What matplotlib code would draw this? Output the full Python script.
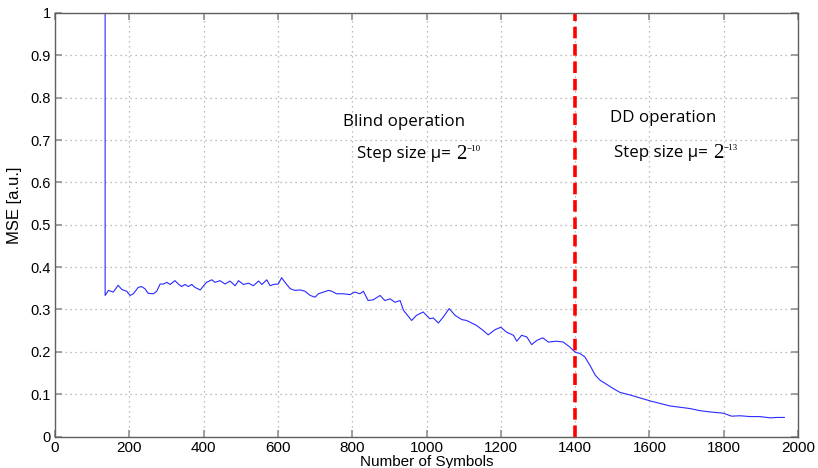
import numpy as np
import matplotlib
matplotlib.use('Agg')
from matplotlib import pyplot as plt

# MSE trace of the equaliser vs. symbol index
sym = [135, 135, 144, 157, 170, 180, 193, 202, 211, 224, 233, 242, 251, 265, 274,
       283, 292, 301, 310, 323, 332, 341, 350, 359, 368, 377, 391, 400, 408, 422,
       431, 444, 458, 471, 485, 494, 507, 521, 534, 548, 557, 570, 579, 588, 601,
       610, 619, 633, 646, 660, 673, 687, 700, 709, 723, 736, 745, 758, 776, 794,
       807, 821, 830, 843, 857, 875, 888, 902, 915, 929, 938, 960, 973, 991, 1009,
       1018, 1032, 1045, 1061, 1077, 1095, 1108, 1135, 1153, 1166, 1184, 1200,
       1216, 1234, 1243, 1256, 1270, 1283, 1297, 1313, 1328, 1350, 1368, 1386,
       1400, 1413, 1426, 1440, 1454, 1467, 1485, 1503, 1521, 1548, 1575, 1602,
       1629, 1656, 1683, 1709, 1736, 1763, 1799, 1821, 1844, 1871, 1898, 1925,
       1943, 1963]
mse = [1.0, 0.333, 0.345, 0.341, 0.357, 0.347, 0.343, 0.333, 0.337, 0.352, 0.354,
       0.349, 0.338, 0.337, 0.343, 0.360, 0.360, 0.364, 0.359, 0.368, 0.360, 0.354,
       0.359, 0.354, 0.359, 0.352, 0.346, 0.356, 0.364, 0.370, 0.364, 0.368, 0.360,
       0.367, 0.356, 0.368, 0.359, 0.362, 0.356, 0.367, 0.359, 0.370, 0.356, 0.359,
       0.360, 0.375, 0.364, 0.349, 0.345, 0.346, 0.343, 0.333, 0.329, 0.337, 0.341,
       0.345, 0.343, 0.337, 0.337, 0.335, 0.341, 0.337, 0.343, 0.321, 0.323, 0.333,
       0.321, 0.325, 0.317, 0.321, 0.298, 0.274, 0.286, 0.294, 0.278, 0.280, 0.268,
       0.282, 0.302, 0.286, 0.276, 0.274, 0.262, 0.250, 0.240, 0.252, 0.258, 0.246,
       0.239, 0.225, 0.239, 0.235, 0.217, 0.227, 0.233, 0.223, 0.225, 0.223, 0.211,
       0.199, 0.196, 0.188, 0.168, 0.145, 0.133, 0.123, 0.113, 0.104, 0.098, 0.091,
       0.084, 0.078, 0.072, 0.069, 0.066, 0.061, 0.058, 0.055, 0.048, 0.049, 0.047,
       0.047, 0.044, 0.045, 0.045]

switch_at = 1400
xticks = np.arange(0, 2001, 200)
yticks = np.round(np.arange(0, 1.01, 0.1), 1)

fig = plt.figure(figsize=(8.18, 4.68), dpi=100)
ax = fig.add_axes([0.0672, 0.0673, 0.9084, 0.905])

ax.plot(sym, mse, color='#2a2aff', lw=0.8)
ax.axvline(switch_at, color='#ff0000', lw=2.6, ls=(0, (3.2, 1.6)))

ax.set_xlim(0, 2000)
ax.set_ylim(0, 1)
ax.set_xticks(xticks)
ax.set_yticks(yticks)
ax.set_yticklabels([('%g' % v) for v in yticks])
ax.grid(True, color='#a8a8a8', ls=(0, (1, 3)), lw=0.9)
ax.tick_params(direction='in', top=True, right=True, length=5, width=1.2,
               color='#909090', pad=3)
ax.tick_params(axis='x', labelsize=11)
ax.tick_params(axis='y', labelsize=10.5)
for lab in ax.get_xticklabels() + ax.get_yticklabels():
	lab.set_family('Liberation Sans')
for s in ax.spines.values():
	s.set_color('#606060')
	s.set_linewidth(1.0)

ax.set_xlabel('Number of Symbols', family='Liberation Sans', fontsize=11, labelpad=0)
ax.set_ylabel('MSE [a.u.]', family='Liberation Sans', fontsize=12)
ax.yaxis.set_label_coords(-0.044, 0.547)

# annotations for the two operating regions
tfont = dict(family=['Open Sans', 'DejaVu Sans'], fontsize=12.2, va='center')

def step_size(x, y, exp):
	t = ax.text(x, y, 'Step size μ=', **tfont)
	base = ax.annotate('2', xy=(1, 0.5), xycoords=t, xytext=(3.5, 0),
	                   textcoords='offset points', va='center', ha='left',
	                   family='Liberation Serif', fontsize=15)
	ax.annotate(exp, xy=(1, 1), xycoords=base, xytext=(0.5, 0),
	            textcoords='offset points', va='top', ha='left',
	            family='Liberation Serif', fontsize=6.5)

ax.text(775, 0.742, 'Blind operation', **tfont)
step_size(813, 0.667, '\u221210')
ax.text(1494, 0.752, 'DD operation', **tfont)
step_size(1505, 0.669, '\u221213')

fig.savefig('out.png', dpi=100)
